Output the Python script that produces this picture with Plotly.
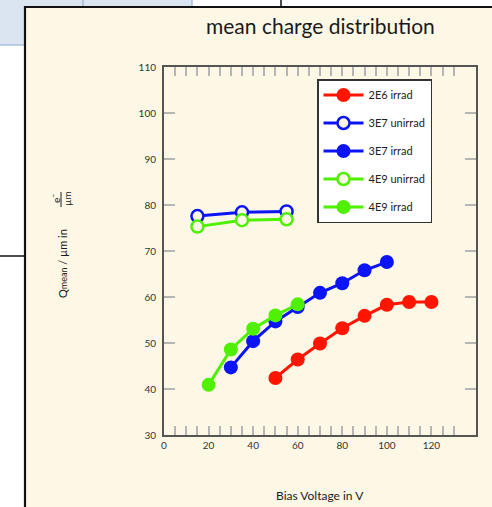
import plotly.graph_objects as go

# ---- data ----
x_2e6_irrad = [50, 60, 70, 80, 90, 100, 110, 120]
y_2e6_irrad = [42.4, 46.4, 49.9, 53.2, 55.9, 58.3, 58.9, 58.9]

x_3e7_unirrad = [15, 35, 55]
y_3e7_unirrad = [77.6, 78.4, 78.6]

x_3e7_irrad = [30, 40, 50, 60, 70, 80, 90, 100]
y_3e7_irrad = [44.7, 50.4, 54.7, 57.8, 60.9, 63.0, 65.8, 67.6]

x_4e9_unirrad = [15, 35, 55]
y_4e9_unirrad = [75.3, 76.7, 76.9]

x_4e9_irrad = [20, 30, 40, 50, 60]
y_4e9_irrad = [40.9, 48.6, 53.1, 56.0, 58.4]

x_ticks = [0, 20, 40, 60, 80, 100, 120]
y_ticks = [30, 40, 50, 60, 70, 80, 90, 100, 110]

RED = "#ff1500"
BLUE = "#0a14f5"
GREEN = "#4ff000"
CREAM = "#fdf7e6"
FONT = "Lato"

W, H = 492, 507
L, R, T, B = 164, 476, 67, 435


def px(xp):
    return (xp - L) / (R - L)


def py(yp):
    return (B - yp) / (B - T)


fig = go.Figure()


def add(x, y, name, color, filled, grp):
    fig.add_trace(go.Scatter(
        x=x, y=y, name=name, mode="lines+markers", legendgroup=grp,
        line=dict(color=color, width=3),
        marker=dict(symbol="circle", size=14 if filled else 12,
                    color=color if filled else CREAM,
                    line=dict(color=color, width=0 if filled else 2.5)),
    ))


add(x_2e6_irrad, y_2e6_irrad, "2E6 irrad", RED, True, "a")
add(x_3e7_unirrad, y_3e7_unirrad, "3E7 unirrad", BLUE, False, "b")
add(x_3e7_irrad, y_3e7_irrad, "3E7 irrad", BLUE, True, "c")
add(x_4e9_unirrad, y_4e9_unirrad, "4E9 unirrad", GREEN, False, "d")
add(x_4e9_irrad, y_4e9_irrad, "4E9 irrad", GREEN, True, "e")

shapes = [
    # light-blue table cells in the background screenshot
    dict(type="rect", x0=px(-5), x1=px(83), y0=py(-5), y1=py(45),
         fillcolor="#dbe5f1", line=dict(color="#a9c0e0", width=1.5)),
    dict(type="rect", x0=px(83), x1=px(192), y0=py(-5), y1=py(45),
         fillcolor="#dbe5f1", line=dict(color="#a9c0e0", width=1.5)),
    dict(type="line", x0=px(281), x1=px(281), y0=py(-5), y1=py(8),
         line=dict(color="#111", width=1.5)),
    dict(type="line", x0=px(-5), x1=px(26), y0=py(256), y1=py(256),
         line=dict(color="#111", width=1.5)),
    # cream slide panel
    dict(type="rect", x0=px(25), x1=px(520), y0=py(7), y1=py(530),
         fillcolor=CREAM, line=dict(color="#111", width=2.2)),
    # fraction bar of y-title
    dict(type="line", x0=px(61), x1=px(61), y0=py(192), y1=py(207),
         line=dict(color="#222", width=1)),
]
for s in shapes:
    s.update(xref="paper", yref="paper", layer="below")

annotations = [
    dict(text="mean charge distribution", x=0.5, y=py(25), xref="paper", yref="paper",
         showarrow=False, font=dict(family=FONT, size=21, color="#1a1a1a"),
         xanchor="center", yanchor="middle"),
    dict(text="Bias Voltage in V", x=0.5, y=py(495), xref="paper", yref="paper",
         showarrow=False, font=dict(family=FONT, size=12, color="#1a1a1a"),
         xanchor="center", yanchor="middle"),
    dict(text="Q<span style='font-size:9px'>mean</span> / µm in", x=px(62), y=py(264),
         xref="paper", yref="paper",
         showarrow=False, textangle=-90, font=dict(family=FONT, size=11, color="#1a1a1a"),
         xanchor="center", yanchor="middle"),
    dict(text="e<sup>−</sup>", x=px(55), y=py(199), xref="paper", yref="paper",
         showarrow=False, textangle=-90, font=dict(family=FONT, size=10, color="#1a1a1a"),
         xanchor="center", yanchor="middle"),
    dict(text="µm", x=px(67), y=py(199), xref="paper", yref="paper",
         showarrow=False, textangle=-90, font=dict(family=FONT, size=10, color="#1a1a1a"),
         xanchor="center", yanchor="middle"),
]

fig.update_layout(
    width=W, height=H,
    margin=dict(l=L, r=W - R, t=T, b=H - B, pad=0),
    paper_bgcolor="white", plot_bgcolor=CREAM,
    font=dict(family=FONT, size=10, color="#333"),
    shapes=shapes, annotations=annotations,
    showlegend=True,
    legend=dict(x=px(317), y=py(79), xanchor="left", yanchor="top",
                bgcolor="white", bordercolor="#333", borderwidth=1.5,
                font=dict(family=FONT, size=11, color="#222"),
                tracegroupgap=9, itemwidth=40),
    xaxis=dict(range=[0, 140], tickvals=x_ticks, ticks="inside", ticklen=9,
               tickcolor="#b5b5b5", tickwidth=1.5, showgrid=False, zeroline=False,
               showline=True, linecolor="#555", linewidth=2, mirror="ticks",
               minor=dict(tickvals=list(range(5, 135, 5)), ticks="inside", ticklen=9,
                          tickcolor="#b5b5b5", tickwidth=1.5, showgrid=False),
               tickfont=dict(family=FONT, size=10, color="#333")),
    yaxis=dict(range=[30, 110], tickvals=y_ticks, ticks="inside", ticklen=11,
               tickcolor="#b5b5b5", tickwidth=1.5, showgrid=False, zeroline=False,
               showline=True, linecolor="#555", linewidth=2, mirror="ticks",
               ticklabelstandoff=4,
               tickfont=dict(family=FONT, size=10, color="#333")),
)

fig.write_html("out.html", config={"displayModeBar": False},
               post_script="document.body.style.margin='0px';document.body.style.overflow='hidden';")
